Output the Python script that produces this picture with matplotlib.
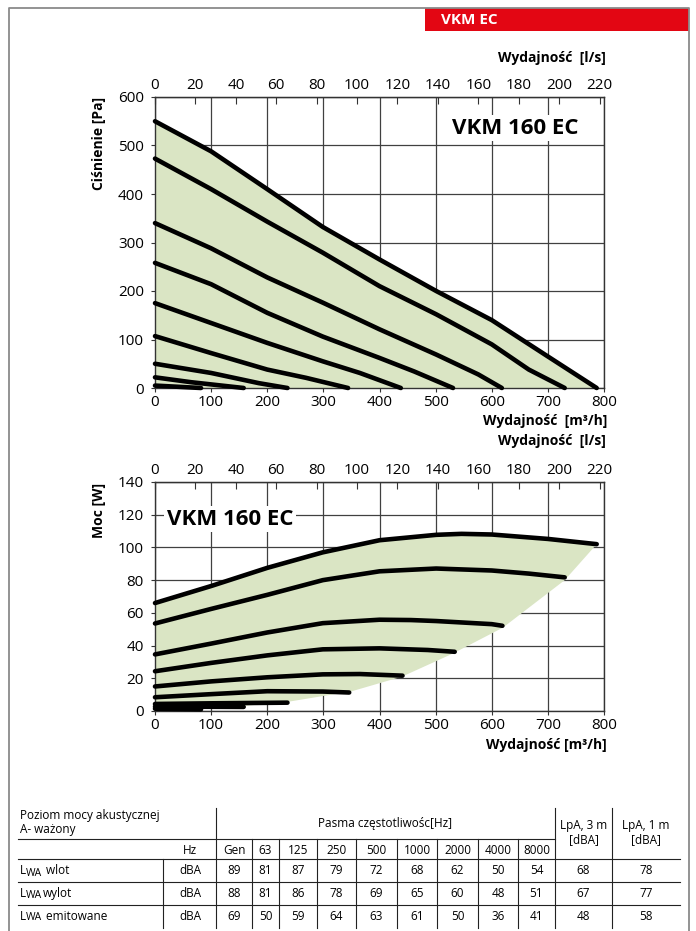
import matplotlib.pyplot as plt
from matplotlib.patches import Rectangle

plt.rcParams['font.family'] = ['Open Sans', 'DejaVu Sans']

# krzywe ciśnienia [Pa] vs wydajność [m3/h]
p_x = [
    [0, 100, 200, 299, 400, 501, 600, 700, 787],
    [0, 100, 200, 299, 400, 501, 600, 666, 730],
    [0, 100, 200, 299, 400, 501, 576, 618],
    [0, 100, 200, 299, 400, 462, 531],
    [0, 100, 200, 299, 365, 438],
    [0, 100, 200, 269, 344],
    [0, 100, 185, 236],
    [0, 64, 158],
    [0, 82],
]
p_y = [
    [550, 488, 410, 332, 265, 200, 140, 65, 0],
    [473, 410, 343, 279, 210, 152, 90, 38, 0],
    [340, 288, 228, 176, 121, 69, 28, 0],
    [258, 214, 155, 106, 62, 34, 0],
    [175, 134, 93, 55, 31, 0],
    [107, 72, 38, 21, 0],
    [50, 31, 10, 0],
    [22, 12, 0],
    [5, 0],
]

# krzywe mocy [W] vs wydajność [m3/h]
w_x = [
    [0, 100, 200, 299, 400, 501, 546, 600, 700, 787],
    [0, 100, 200, 299, 400, 501, 600, 666, 730],
    [0, 100, 200, 299, 400, 456, 501, 600, 619],
    [0, 100, 200, 299, 400, 486, 534],
    [0, 100, 200, 299, 365, 441],
    [0, 100, 200, 299, 346],
    [0, 100, 236],
    [0, 158],
    [0, 82],
]
w_y = [
    [66, 76.4, 87.5, 97, 104.4, 107.7, 108.3, 107.9, 105.2, 102],
    [53.5, 62.4, 71, 80, 85.4, 87.1, 85.9, 84, 81.7],
    [34.6, 41.2, 48, 53.7, 55.8, 55.6, 55, 53.1, 52.1],
    [24.3, 29.4, 34, 37.7, 38.3, 37.3, 36.2],
    [15, 18.1, 20.6, 22.4, 22.6, 21.6],
    [8.4, 10.3, 12.1, 11.9, 11.3],
    [4.3, 4.7, 5.1],
    [2.7, 2.5],
    [1.4, 1.0],
]
# dolna granica pola pracy (wykres mocy)
lim_x = [0, 150, 240, 350, 440, 530, 620, 730, 787]
lim_y = [0, 2.8, 5.8, 12, 21, 35, 51, 80, 102]

# tabela akustyczna
bands = ['Gen', '63', '125', '250', '500', '1000', '2000', '4000', '8000']
row_names = [' wlot', 'wylot', ' emitowane']
lwa_wlot = [89, 81, 87, 79, 72, 68, 62, 50, 54]
lwa_wylot = [88, 81, 86, 78, 69, 65, 60, 48, 51]
lwa_emit = [69, 50, 59, 64, 63, 61, 50, 36, 41]
lpa_3m = [68, 67, 48]
lpa_1m = [78, 77, 58]

W, H = 696, 931
GREEN = '#dae5c4'
GRID = '#404040'

fig = plt.figure(figsize=(W / 100, H / 100), dpi=100)


def fpos(x, y):
    return x / W, 1 - y / H


# warstwa z ramką, nagłówkiem i tabelą (współrzędne w pikselach)
ov = fig.add_axes([0, 0, 1, 1])
ov.set_xlim(0, W)
ov.set_ylim(H, 0)
ov.axis('off')
ov.plot([9, 9, 689, 689], [H, 8, 8, H], color='#8a8a8a', lw=1.3)
ov.add_patch(Rectangle((425, 8), 264, 23, color='#e30613', lw=0))
ov.text(441, 19.5, 'VKM EC', color='white', fontsize=11, fontweight='bold', va='center')


def setup(ax, ymax, ystep, ylabel, ylab_top):
    ax.set_xlim(0, 800)
    ax.set_ylim(0, ymax)
    ax.set_xticks(range(0, 801, 100))
    ax.set_yticks(range(0, ymax + 1, ystep))
    ax.grid(True, color=GRID, lw=0.9)
    ax.set_axisbelow(True)
    for s in ax.spines.values():
        s.set_color('#333333')
        s.set_linewidth(1)
    ax.tick_params(axis='both', labelsize=11, length=3, color='#333333')
    ax.tick_params(axis='x', pad=2)
    ax.tick_params(axis='y', pad=5)
    sec = ax.secondary_xaxis('top', functions=(lambda v: v / 3.6, lambda v: v * 3.6))
    sec.set_xticks(range(0, 221, 20))
    sec.tick_params(direction='in', length=5, labelsize=11, pad=3, color='#333333')
    sec.spines['top'].set_color('#333333')
    fig.text(*fpos(99, ylab_top), ylabel, rotation=90, fontsize=10, fontweight='bold',
             ha='center', va='top')


# wykres ciśnienia
ax1 = fig.add_axes([155 / W, 1 - 388 / H, 449 / W, 291 / H])
setup(ax1, 600, 100, 'Ciśnienie [Pa]', 97)
ax1.fill_between(p_x[0], p_y[0], 0, color=GREEN, lw=0, zorder=1)
for xs, ys in zip(p_x, p_y):
    ax1.plot(xs, ys, color='black', lw=3.3, solid_capstyle='round', clip_on=False, zorder=3)
ax1.text(641, 536, 'VKM 160 EC', fontsize=16, fontweight='bold', ha='center', va='center',
         bbox=dict(facecolor='white', edgecolor='none', pad=2), zorder=4)
fig.text(*fpos(606, 58), 'Wydajność  [l/s]', fontsize=10, fontweight='bold', ha='right', va='center')
fig.text(*fpos(607, 421), 'Wydajność  [m³/h]', fontsize=10, fontweight='bold', ha='right', va='center')

# wykres mocy
ax2 = fig.add_axes([155 / W, 1 - 711 / H, 449 / W, 229 / H])
setup(ax2, 140, 20, 'Moc [W]', 483)
ax2.fill(w_x[0] + lim_x[::-1], w_y[0] + lim_y[::-1], color=GREEN, lw=0, zorder=1)
for xs, ys in zip(w_x, w_y):
    ax2.plot(xs, ys, color='black', lw=3.3, solid_capstyle='round', clip_on=False, zorder=3)
ax2.text(134, 117.3, 'VKM 160 EC', fontsize=16, fontweight='bold', ha='center', va='center',
         bbox=dict(facecolor='white', edgecolor='none', pad=2), zorder=4)
fig.text(*fpos(606, 441), 'Wydajność  [l/s]', fontsize=10, fontweight='bold', ha='right', va='center')
fig.text(*fpos(607, 745), 'Wydajność [m³/h]', fontsize=10, fontweight='bold', ha='right', va='center')

# tabela
lc = dict(color='#222222', lw=0.8)
col_edges = [216, 252, 279, 317, 356, 397, 437, 478, 518, 555]
ov.plot([163, 163], [859, 928], **lc)
for x in [216, 555, 612]:
    ov.plot([x, x], [808, 928], **lc)
for x in col_edges[1:-1]:
    ov.plot([x, x], [839, 928], **lc)
ov.plot([18, 555], [839, 839], **lc)
for y in [859, 882, 905]:
    ov.plot([18, 680], [y, y], **lc)

fs = 8.5
ov.text(20, 816, 'Poziom mocy akustycznej', fontsize=fs, va='center')
ov.text(20, 830, 'A- ważony', fontsize=fs, va='center')
ov.text(385, 824, 'Pasma częstotliwośc[Hz]', fontsize=fs, ha='center', va='center')
ov.text(583.5, 825, 'LpA, 3 m', fontsize=fs, ha='center', va='center')
ov.text(583.5, 840, '[dBA]', fontsize=fs, ha='center', va='center')
ov.text(646, 825, 'LpA, 1 m', fontsize=fs, ha='center', va='center')
ov.text(646, 840, '[dBA]', fontsize=fs, ha='center', va='center')
ov.text(190, 850, 'Hz', fontsize=fs, ha='center', va='center')
centers = [(a + b) / 2 for a, b in zip(col_edges[:-1], col_edges[1:])]
for cx, b in zip(centers, bands):
    ov.text(cx, 850, b, fontsize=fs, ha='center', va='center')

rows = [lwa_wlot, lwa_wylot, lwa_emit]
row_y = [871, 893.5, 916]
for i, (name, vals, ry) in enumerate(zip(row_names, rows, row_y)):
    ov.text(20, ry, 'L', fontsize=fs, va='center')
    ov.text(26, ry + 2, 'WA', fontsize=7.5, va='center')
    ov.text(43, ry, name, fontsize=fs, va='center')
    ov.text(190, ry, 'dBA', fontsize=fs, ha='center', va='center')
    for cx, v in zip(centers, vals):
        ov.text(cx, ry, str(v), fontsize=fs, ha='center', va='center')
    ov.text(583.5, ry, str(lpa_3m[i]), fontsize=fs, ha='center', va='center')
    ov.text(646, ry, str(lpa_1m[i]), fontsize=fs, ha='center', va='center')

fig.savefig('out.png', dpi=100)
